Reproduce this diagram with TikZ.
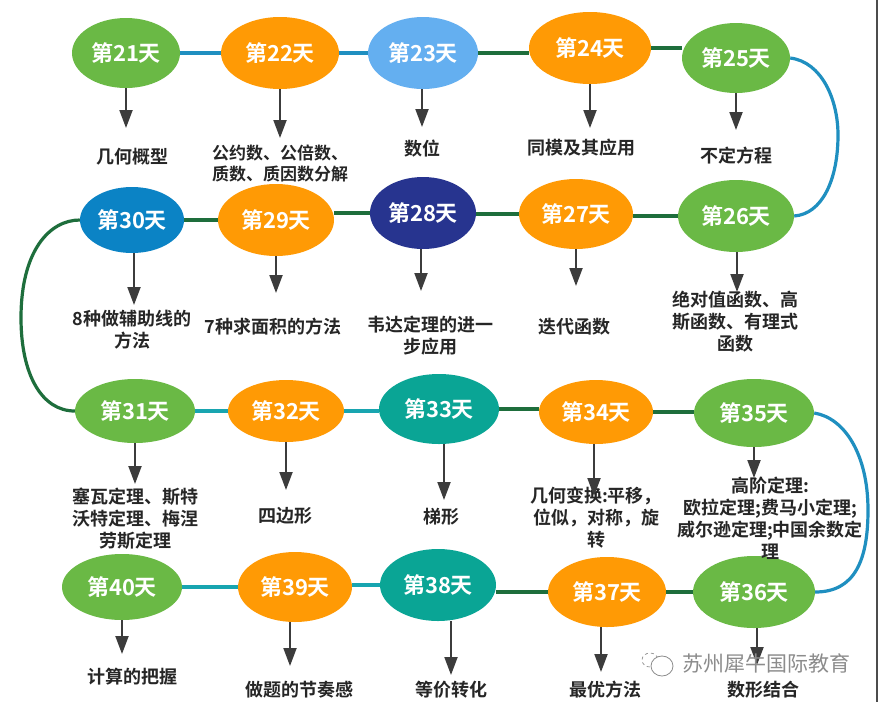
\documentclass[tikz,border=0pt]{standalone}
\usepackage{fontspec}
\setmainfont{Noto Sans CJK SC}[BoldFont={Noto Sans CJK SC Bold}]
\usetikzlibrary{arrows.meta,calc,shapes.geometric}
\definecolor{cgreen}{HTML}{6AB945}
\definecolor{corange}{HTML}{FF9A05}
\definecolor{clight}{HTML}{64AFF0}
\definecolor{cnavy}{HTML}{27348F}
\definecolor{cblue}{HTML}{0B83C5}
\definecolor{cteal}{HTML}{0AA595}
\definecolor{lblue}{HTML}{1F8FC0}
\definecolor{lgreen}{HTML}{1E6E3C}
\definecolor{lteal}{HTML}{18A5B0}
\definecolor{arr}{HTML}{3C3C3C}
\tikzset{
  x=1pt,y=-1pt,
  daynode/.style={ellipse,inner sep=0pt,text=white,font=\fontsize{22}{24}\selectfont\bfseries},
  lab/.style={align=center,inner sep=0pt,text=black!85,font=\fontsize{18}{22}\selectfont\bfseries},
  labsmall/.style={lab,font=\fontsize{17}{21}\selectfont\bfseries},
  linkblue/.style={draw=lblue,line width=3.2pt},
  linkgreen/.style={draw=lgreen,line width=3.2pt},
  linkteal/.style={draw=lteal,line width=3.2pt},
  downarrow/.style={draw=arr,line width=2pt,-{Triangle[length=18pt,width=13pt]}},
}
\newcommand{\daynd}[6]{\node[daynode,fill=#1,minimum width=#4pt,minimum height=#5pt] (n#6) at (#2,#3) {第#6天};}
\newcommand{\dayarrow}[3]{\coordinate (a#1) at (#2,#3); \draw[downarrow] (a#1 |- n#1.south) -- (a#1);}
\begin{document}
\begin{tikzpicture}
\useasboundingbox (0,0) rectangle (878,702);
\fill[white] (0,0) rectangle (878,702);
\fill[black!70] (876,0) rectangle (878,702);
% day nodes
\daynd{cgreen}{126}{53}{108}{70}{21}
\daynd{corange}{280}{53}{118}{72}{22}
\daynd{clight}{423}{53}{110}{72}{23}
\daynd{corange}{590}{48}{122}{72}{24}
\daynd{cgreen}{736}{58}{108}{70}{25}
\daynd{cgreen}{736}{216}{116}{72}{26}
\daynd{corange}{576}{214}{114}{70}{27}
\daynd{cnavy}{423}{213}{106}{72}{28}
\daynd{corange}{276}{220}{116}{72}{29}
\daynd{cblue}{132}{220}{104}{66}{30}
\daynd{cgreen}{135}{411}{120}{64}{31}
\daynd{corange}{286}{411}{116}{62}{32}
\daynd{cteal}{439}{409}{120}{70}{33}
\daynd{corange}{596}{412}{114}{64}{34}
\daynd{cgreen}{754}{413}{120}{68}{35}
\daynd{cgreen}{754}{592}{122}{72}{36}
\daynd{corange}{607}{592}{118}{70}{37}
\daynd{cteal}{438}{585}{116}{72}{38}
\daynd{corange}{295}{587}{114}{70}{39}
\daynd{cgreen}{122}{587}{120}{66}{40}
% links
\draw[linkblue] (n21.east) -- (n22.west |- n21.east);
\draw[linkblue] (n22.east) -- (n23.west |- n22.east);
\draw[linkgreen] (n23.east) -- (n24.west |- n23.east);
\draw[linkgreen] (n24.east) -- (n25.west |- n24.east);
\draw[linkblue] (n25.east) .. controls (822,62) and (838,100) .. (838,135) .. controls (838,180) and (822,214) .. (n26.east);
\draw[linkgreen] (n26.west) -- (n27.east |- n26.west);
\draw[linkgreen] (n27.west) -- (n28.east |- n27.west);
\draw[linkgreen] (n28.west) -- (n29.east |- n28.west);
\draw[linkgreen] (n29.west) -- (n30.east |- n29.west);
\draw[linkgreen] (n30.west) .. controls (50,220) and (21,250) .. (21,318) .. controls (21,375) and (42,411) .. (n31.west);
\draw[linkteal] (n31.east) -- (n32.west |- n31.east);
\draw[linkteal] (n32.east) -- (n33.west |- n32.east);
\draw[linkgreen] (n33.east) -- (n34.west |- n33.east);
\draw[linkgreen] (n34.east) -- (n35.west |- n34.east);
\draw[linkblue] (n35.east) .. controls (845,418) and (868,455) .. (868,510) .. controls (868,560) and (855,592) .. (n36.east);
\draw[linkgreen] (n36.west) -- (n37.east |- n36.west);
\draw[linkgreen] (n37.west) -- (n38.east |- n37.west);
\draw[linkteal] (n38.west) -- (n39.east |- n38.west);
\draw[linkteal] (n39.west) -- (n40.east |- n39.west);
% labels
\node[lab] (l21) at (132,157) {几何概型};
\node[labsmall] (l22) at (280,163) {公约数、公倍数、\\质数、质因数分解};
\node[lab] (l23) at (422,149) {数位};
\node[lab] (l24) at (581,148) {同模及其应用};
\node[lab] (l25) at (736,156) {不定方程};
\node[lab] (l30) at (132,330) {8种做辅助线的\\方法};
\node[lab] (l29) at (273,327) {7种求面积的方法};
\node[lab] (l28) at (430,336) {韦达定理的进一\\步应用};
\node[lab] (l27) at (574,327) {迭代函数};
\node[lab] (l26) at (735,322) {绝对值函数、高\\斯函数、有理式\\函数};
\node[lab] (l31) at (135,519) {塞瓦定理、斯特\\沃特定理、梅涅\\劳斯定理};
\node[lab] (l32) at (285,516) {四边形};
\node[lab] (l33) at (441,517) {梯形};
\node[lab] (l34) at (596,518) {几何变换:平移，\\位似，对称，旋\\转};
\node[lab] (l35) at (770,518) {高阶定理:\\欧拉定理;费马小定理;\\威尔逊定理;中国余数定\\理};
\node[lab] (l40) at (132,677) {计算的把握};
\node[lab] (l39) at (299,690) {做题的节奏感};
\node[lab] (l38) at (451,690) {等价转化};
\node[lab] (l37) at (605,690) {最优方法};
\node[lab] (l36) at (763,690) {数形结合};
% arrows
\dayarrow{21}{126}{128}
\dayarrow{22}{280}{138}
\dayarrow{23}{422}{127}
\dayarrow{24}{590}{128}
\dayarrow{25}{736}{130}
\dayarrow{26}{737}{292}
\dayarrow{27}{576}{286}
\dayarrow{28}{421}{291}
\dayarrow{29}{276}{293}
\dayarrow{30}{134}{305}
\dayarrow{31}{135}{484}
\dayarrow{32}{286}{490}
\dayarrow{33}{444}{500}
\dayarrow{34}{594}{496}
\dayarrow{35}{754}{478}
\dayarrow{36}{757}{665}
\dayarrow{37}{601}{672}
\dayarrow{38}{451}{675}
\dayarrow{39}{290}{666}
\dayarrow{40}{122}{654}
% watermark
\node[inner sep=0pt,text=black!45,font=\fontsize{21}{24}\selectfont] (wm) at (766,663) {苏州犀牛国际教育};
\draw[black!40,line width=0.8pt,dashed,fill=white] (650,660) ellipse [x radius=8,y radius=7];
\draw[black!45,line width=0.8pt,fill=white] (662,666) ellipse [x radius=11,y radius=10];
\end{tikzpicture}
\end{document}
